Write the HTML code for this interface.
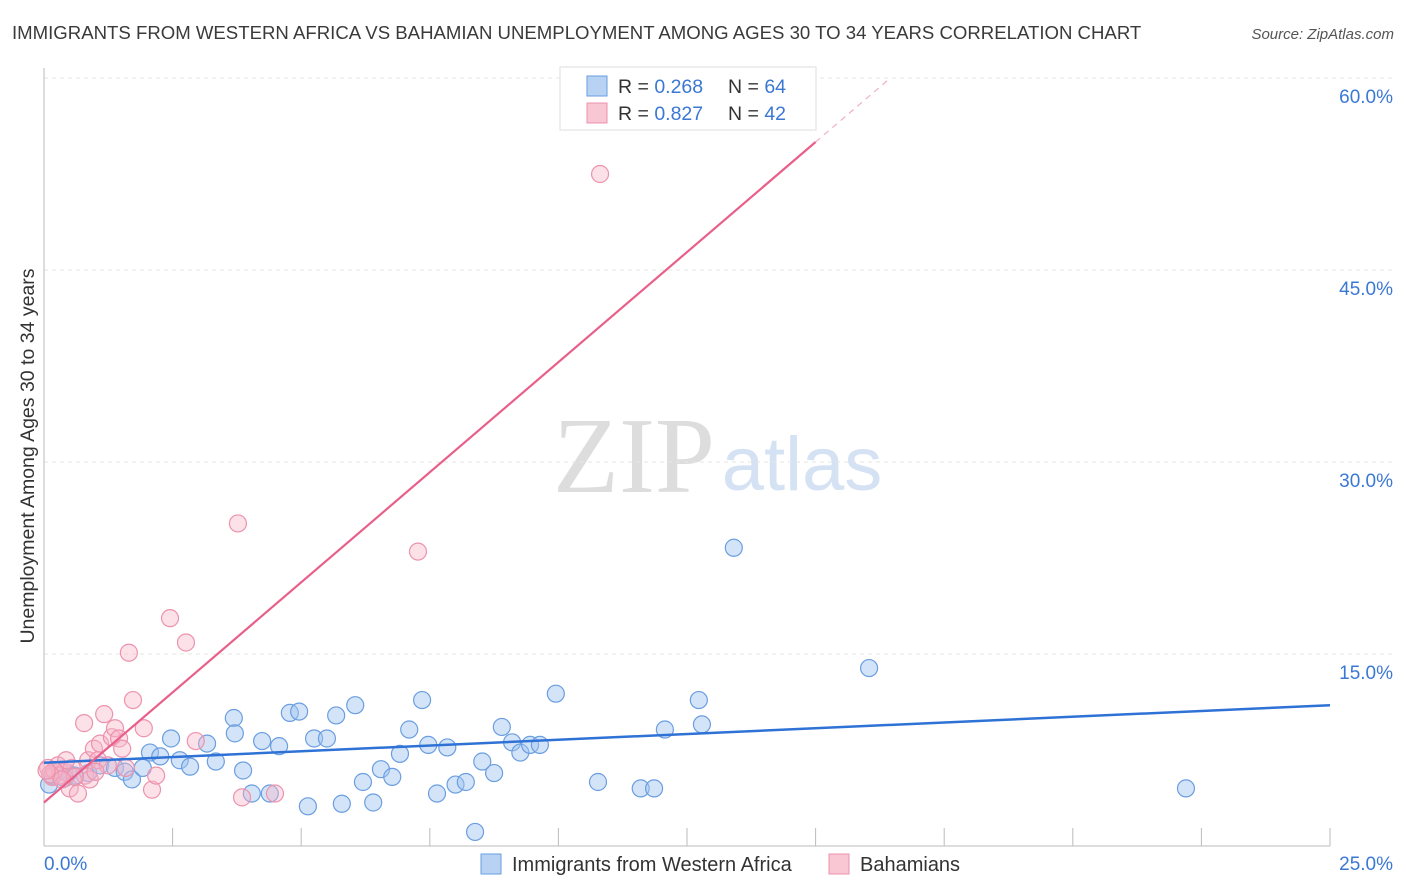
<!DOCTYPE html>
<html><head><meta charset="utf-8"><style>
body{margin:0;background:#fff;font-family:"Liberation Sans",sans-serif;}
svg{display:block}
</style></head><body>
<svg id="chart" width="1406" height="892">
<text x="12" y="39" font-size="18.6" fill="#3a3a3a">IMMIGRANTS FROM WESTERN AFRICA VS BAHAMIAN UNEMPLOYMENT AMONG AGES 30 TO 34 YEARS CORRELATION CHART</text>
<text x="1394" y="39" font-size="15" fill="#555" font-style="italic" text-anchor="end">Source: ZipAtlas.com</text>
<text x="34" y="456" font-size="19.5" fill="#333" text-anchor="middle" transform="rotate(-90 34 456)">Unemployment Among Ages 30 to 34 years</text>
<text x="634" y="492" font-size="108" fill="#ddd" font-family="Liberation Serif,serif" text-anchor="middle">ZIP</text>
<text x="802" y="490" font-size="76" fill="#d5e2f3" text-anchor="middle">atlas</text>
<g id="grid"></g><g id="axes"></g><g id="pts"></g><g id="lines"></g>
<g>
<rect x="560" y="67" width="256" height="63" fill="#fff" stroke="#ddd"/>
<rect x="587" y="76" width="20" height="20" fill="#b8d2f4" stroke="#6a9ee0"/>
<rect x="587" y="103" width="20" height="20" fill="#f9c6d4" stroke="#ec93ad"/>
<text x="618" y="93" font-size="19.5" fill="#333">R = <tspan fill="#3b78d4">0.268</tspan><tspan x="728">N = </tspan><tspan fill="#3b78d4">64</tspan></text>
<text x="618" y="120" font-size="19.5" fill="#333">R = <tspan fill="#3b78d4">0.827</tspan><tspan x="728">N = </tspan><tspan fill="#3b78d4">42</tspan></text>
</g>
<g>
<rect x="481" y="854" width="20" height="20" fill="#b8d2f4" stroke="#6a9ee0"/>
<text x="512" y="871" font-size="20" fill="#333">Immigrants from Western Africa</text>
<rect x="829" y="854" width="20" height="20" fill="#f9c6d4" stroke="#ec93ad"/>
<text x="860" y="871" font-size="20" fill="#333">Bahamians</text>
</g>
</svg>
<script>
const blueX=[0.16,0.31,0.47,0.6,0.86,1.09,1.38,1.57,1.71,1.92,2.06,2.26,2.47,2.64,2.84,3.17,3.34,3.69,3.71,3.87,4.04,4.24,4.39,4.57,4.78,4.96,5.13,5.25,5.5,5.68,5.79,6.05,6.2,6.4,6.55,6.77,6.92,7.1,7.35,7.47,7.64,7.84,8.0,8.2,8.38,8.52,8.75,8.9,9.1,9.26,9.45,9.64,9.95,10.77,11.6,11.86,12.07,12.73,12.79,13.41,16.04,22.2,0.1,0.4];
const blueY=[5.5,5.9,5.7,5.5,5.7,6.3,6.1,5.8,5.2,6.1,7.3,7.0,8.4,6.7,6.2,8.0,6.6,10.0,8.8,5.9,4.1,8.2,4.1,7.8,10.4,10.5,3.1,8.4,8.4,10.2,3.3,11.0,5.0,3.4,6.0,5.4,7.2,9.1,11.4,7.9,4.1,7.7,4.8,5.0,1.1,6.6,5.7,9.3,8.1,7.3,7.9,7.9,11.9,5.0,4.5,4.5,9.1,11.4,9.5,23.3,13.9,4.5,4.8,5.3];
const pinkX=[0.08,0.16,0.27,0.39,0.5,0.66,0.78,0.8,0.86,0.89,0.97,1.05,1.09,1.17,1.24,1.32,1.38,1.46,1.52,1.59,1.65,1.73,1.94,2.1,2.18,2.45,2.76,2.95,3.77,3.85,4.49,7.27,10.81,0.31,0.54,0.43,0.2,0.12,0.6,1.0,0.35,0.05];
const pinkY=[6.1,5.4,6.3,5.8,4.5,4.1,9.6,5.5,6.7,5.2,7.6,6.7,8.0,10.3,6.3,8.5,9.2,8.4,7.6,6.1,15.1,11.4,9.2,4.4,5.5,17.8,15.9,8.2,25.2,3.8,4.1,23.0,52.5,5.5,6.1,6.7,5.9,5.6,5.4,5.8,5.2,5.9];
const xTicks=[0,2.5,5,7.5,10,12.5,15,17.5,20,22.5,25];
const yTicks=[15,30,45,60];
const yTickLabels=["15.0%","30.0%","45.0%","60.0%"];
const blueTrend=[6.5,11.0];
const pinkTrend=[3.4,3.44];
const NS="http://www.w3.org/2000/svg";
const sx=v=>44+v/25*1286, sy=v=>846-v/15*192;
function mk(tag,attrs,parent){const e=document.createElementNS(NS,tag);for(const k in attrs)e.setAttribute(k,attrs[k]);document.getElementById(parent).appendChild(e);return e;}
yTicks.forEach((t,i)=>{
 const g=mk('line',{x1:44,x2:1394,y1:sy(t),y2:sy(t),stroke:'#e6e6e6','stroke-dasharray':'4 4'},'grid');
 
 
 const l=mk('text',{x:1393,y:sy(t)+25,'font-size':19,fill:'#3b78d4','text-anchor':'end'},'grid');
 l.textContent=yTickLabels[i];
 
 
});
const ax=mk('line',{x1:44,x2:44,y1:68,y2:846,stroke:'#bbb'},'axes');


const bx=mk('line',{x1:44,x2:1330,y1:846,y2:846,stroke:'#bbb'},'axes');


xTicks.forEach(t=>{const tk=mk('line',{x1:sx(t),x2:sx(t),y1:828,y2:846,stroke:'#bbb'},'axes');
 
 });
const x0=mk('text',{x:44,y:870,'font-size':19,fill:'#3b78d4'},'axes');x0.textContent=xTicks[0].toFixed(1)+'%';


const x1=mk('text',{x:1393,y:870,'font-size':19,fill:'#3b78d4','text-anchor':'end'},'axes');x1.textContent=xTicks[10].toFixed(1)+'%';


blueX.forEach((x,i)=>{const c=mk('circle',{cx:sx(x),cy:sy(blueY[i]),r:8.5,fill:'rgba(160,196,240,0.45)',stroke:'#6a9ee0','stroke-width':1.2},'pts');
 
 });
pinkX.forEach((x,i)=>{const c=mk('circle',{cx:sx(x),cy:sy(pinkY[i]),r:8.5,fill:'rgba(248,180,200,0.4)',stroke:'#ec93ad','stroke-width':1.2},'pts');
 
 });
const bl=mk('line',{x1:sx(0),y1:sy(blueTrend[0]),x2:sx(25),y2:sy(blueTrend[1]),stroke:'#2f72d6','stroke-width':2.5},'lines');


const pe=15, pd=(60-pinkTrend[0])/pinkTrend[1];
const pl=mk('line',{x1:sx(0),y1:sy(pinkTrend[0]),x2:sx(pe),y2:sy(pinkTrend[0]+pinkTrend[1]*pe),stroke:'#e8608a','stroke-width':2.2},'lines');


const pl2=mk('line',{x1:sx(pe),y1:sy(pinkTrend[0]+pinkTrend[1]*pe),x2:sx(pd),y2:sy(60),stroke:'#f0b0c4','stroke-width':1.2,'stroke-dasharray':'6 5'},'lines');


</script>
</body></html>
